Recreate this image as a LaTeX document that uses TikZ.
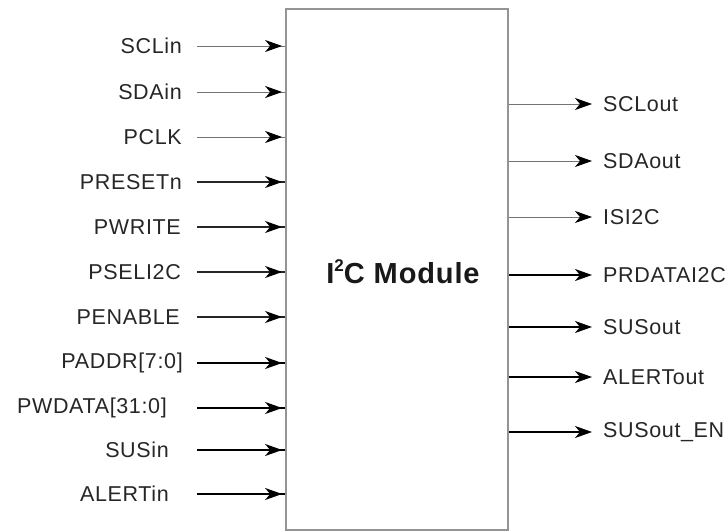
\documentclass[tikz,border=0pt]{standalone}
\usepackage{fontspec}
\setmainfont{Liberation Sans}
\newfontfamily\lblfont[LetterSpace=3]{Liberation Sans}
\usetikzlibrary{arrows.meta,decorations.markings}
\begin{document}
\begin{tikzpicture}[x=1pt,y=-1pt,
  lbl/.style={inner sep=0pt, font=\lblfont\fontsize{21.5}{24}\selectfont, text=black!85},
  modbox/.style={draw=black!42, line width=1.8pt, fill=white, minimum width=222pt, minimum height=521pt, inner sep=0pt},
  thinw/.style={draw=black!55, line width=0.9pt},
  medw/.style={draw=black!85, line width=1.3pt},
  thickw/.style={draw=black, line width=1.8pt},
  inarr/.style={postaction={decorate}, decoration={markings, mark=at position -3pt with {\arrow[black]{Stealth[length=17pt,width=12pt,inset=5pt]}}}},
  outarr/.style={-{Stealth[length=17pt,width=12pt,inset=5pt,black]}}
]
\useasboundingbox (0,0) rectangle (726,532);
\node[modbox] (mod) at (397,269.5) {};
\node[font=\lblfont\fontsize{29}{32}\selectfont\bfseries, text=black!90] (title) at (403,272) {I\raisebox{0.42em}{\fontsize{17}{18}\selectfont 2}C Module};
% inputs
\foreach \n/\t/\y/\xe/\w in {1/SCLin/46/182/thinw, 2/SDAin/92/182/thinw, 3/PCLK/137/182/thinw, 4/PRESETn/182/182/medw, 5/PWRITE/227/181/medw, 6/PSELI2C/272/181/medw, 7/PENABLE/317/180/medw, 8/{PADDR[7:0]}/363/183/thickw, 9/{PWDATA[31:0]}/408/167/thickw, 10/SUSin/450/169/thickw, 11/ALERTin/494/169/thickw}{
  \node[lbl, anchor=east] (in\n) at (\xe,\y) {\t};
  \coordinate (s\n) at (197,\y);
  \draw[\w, inarr] (s\n) -- (s\n -| mod.west);
}
% outputs
\foreach \n/\t/\y/\w in {1/SCLout/104/thinw, 2/SDAout/161/thinw, 3/ISI2C/217/thinw, 4/PRDATAI2C/275/thickw, 5/SUSout/327/thickw, 6/ALERTout/377/thickw, 7/SUSout\_EN/432/thickw}{
  \node[lbl, anchor=west] (out\n) at (603,\y) {\t};
  \coordinate (e\n) at (592,\y);
  \draw[\w, outarr] (e\n -| mod.east) -- (e\n);
}
\end{tikzpicture}
\end{document}
